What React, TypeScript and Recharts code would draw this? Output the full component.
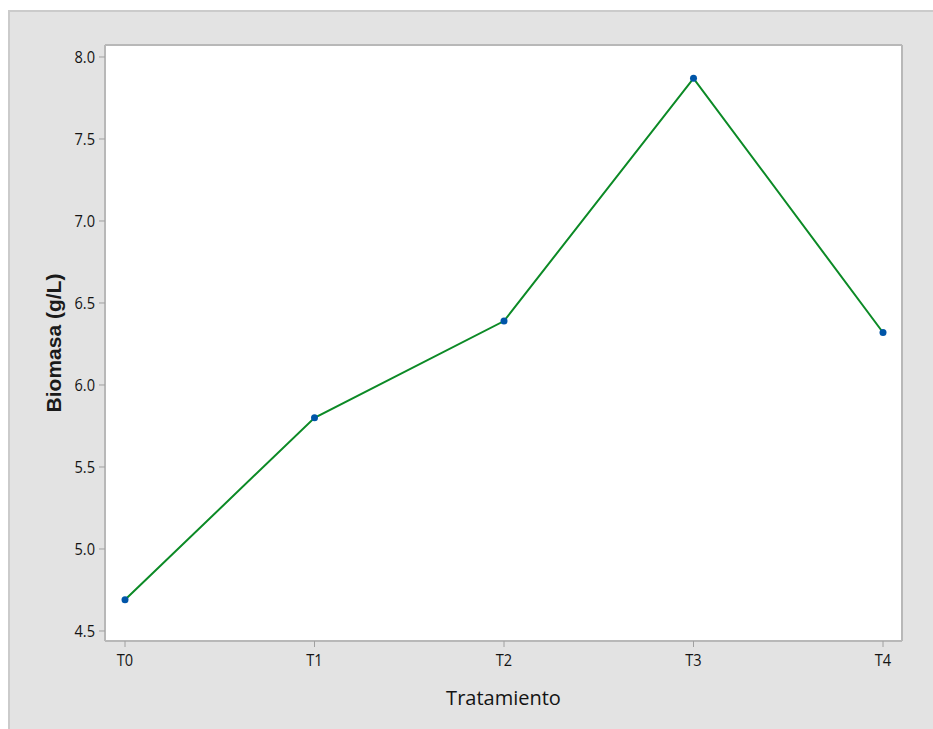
import React from 'react';
import { LineChart, Line, XAxis, YAxis, CartesianGrid } from 'recharts';

// Biomass per treatment
const tratamientos = ['T0', 'T1', 'T2', 'T3', 'T4'];
const biomasa = [4.69, 5.8, 6.39, 7.87, 6.32];
const yTicks = [4.5, 5.0, 5.5, 6.0, 6.5, 7.0, 7.5, 8.0];

const data = tratamientos.map((t, i) => ({ t, v: biomasa[i] }));

const FRAME = { stroke: '#b8b8b8', strokeWidth: 2 };
const FONT = '"Open Sans", sans-serif';

// Slightly condensed tick text
const YTick = (props: any) => {
  const { x, y, payload } = props;
  return (
    <g transform={`translate(${x},${y}) scale(0.86,1)`}>
      <text textAnchor="end" dy="0.36em" fontFamily={FONT} fontSize={17} fontWeight={500} fill="#141414">
        {Number(payload.value).toFixed(1)}
      </text>
    </g>
  );
};

const XTick = (props: any) => {
  const { x, y, payload } = props;
  return (
    <g transform={`translate(${x},${y}) scale(0.86,1)`}>
      <text textAnchor="middle" dy="0.72em" fontFamily={FONT} fontSize={17} fontWeight={500} fill="#141414">
        {payload.value}
      </text>
    </g>
  );
};

const YTitle = (props: any) => {
  const vb = props.viewBox || {};
  const cx = vb.x + 8;
  const cy = vb.y + vb.height / 2;
  return (
    <text
      x={cx}
      y={cy}
      transform={`rotate(-90 ${cx} ${cy})`}
      textAnchor="middle"
      dominantBaseline="central"
      fontFamily='"Liberation Sans", Arial, sans-serif'
      fontWeight="bold"
      fontSize={21}
      fill="#1a1a1a"
    >
      Biomasa (g/L)
    </text>
  );
};

const XTitle = (props: any) => {
  const vb = props.viewBox || {};
  return (
    <text
      x={vb.x + vb.width / 2}
      y={vb.y + 64}
      textAnchor="middle"
      fontFamily={FONT}
      fontSize={20}
      fill="#141414"
    >
      Tratamiento
    </text>
  );
};

export default function App() {
  return (
    <div style={{ position: 'absolute', left: 0, top: 0, width: 933, height: 729, background: '#fff' }}>
      <div
        style={{
          position: 'absolute',
          left: 8,
          top: 10,
          width: 925,
          height: 719,
          background: '#e3e3e3',
          borderTop: '2px solid #cbcbcb',
          borderLeft: '2px solid #cbcbcb',
          boxSizing: 'border-box',
        }}
      />
      <div style={{ position: 'absolute', left: 0, top: 0 }}>
        <LineChart
          width={933}
          height={729}
          data={data}
          margin={{ top: 44, right: 30, bottom: 18, left: 45 }}
        >
          <CartesianGrid horizontal={false} vertical={false} fill="#ffffff" />
          <XAxis
            dataKey="t"
            type="category"
            padding={{ left: 20, right: 19 }}
            height={70}
            axisLine={FRAME}
            tickLine={{ stroke: '#a0a0a0' }}
            tickSize={6}
            tickMargin={7}
            tick={<XTick />}
            label={<XTitle />}
          />
          <XAxis
            xAxisId="top"
            orientation="top"
            dataKey="t"
            height={1}
            tick={false}
            tickLine={false}
            axisLine={FRAME}
          />
          <YAxis
            type="number"
            domain={[4.439, 8.073]}
            ticks={yTicks}
            allowDataOverflow
            width={60}
            axisLine={FRAME}
            tickLine={{ stroke: '#a0a0a0' }}
            tickSize={6}
            tickMargin={4}
            tick={<YTick />}
            label={<YTitle />}
          />
          <YAxis
            yAxisId="right"
            orientation="right"
            width={1}
            tick={false}
            tickLine={false}
            axisLine={FRAME}
          />
          <Line
            type="linear"
            dataKey="v"
            stroke="#0c8a26"
            strokeWidth={2}
            dot={{ r: 3.5, fill: '#0055a8', stroke: '#0055a8', strokeWidth: 0 }}
            activeDot={false}
            isAnimationActive={false}
          />
        </LineChart>
      </div>
    </div>
  );
}
